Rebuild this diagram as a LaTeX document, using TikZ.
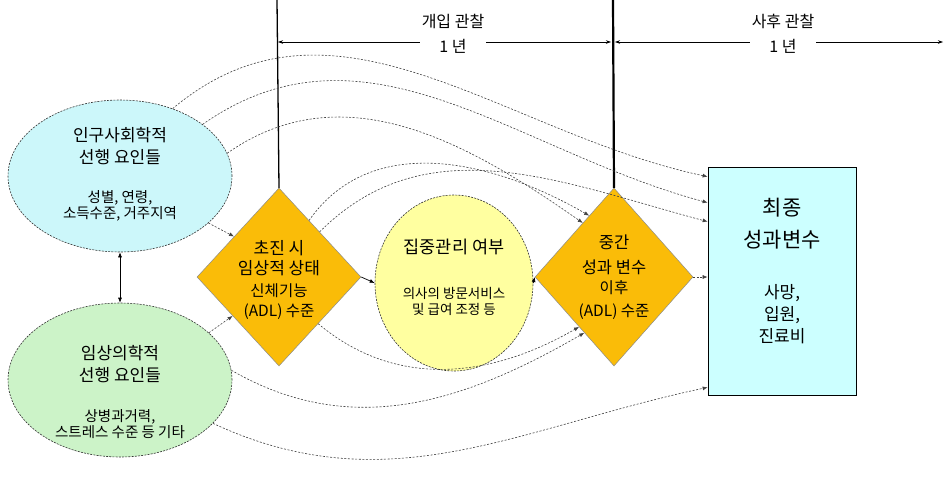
\documentclass[tikz,border=0pt]{standalone}
\usepackage{fontspec}
\newfontfamily\kr{Noto Sans CJK KR}
\usetikzlibrary{shapes.geometric,arrows.meta,calc}
\definecolor{cyanE}{RGB}{204,247,250}
\definecolor{greenE}{RGB}{204,243,200}
\definecolor{orangeD}{RGB}{250,188,8}
\definecolor{yellowE}{RGB}{255,255,160}
\definecolor{boxC}{RGB}{204,255,255}
\begin{document}
\begin{tikzpicture}[x=1pt,y=-1pt,
  conn/.style={dash pattern=on 2pt off 1.6pt, line width=0.6pt, black!75, -{Latex[length=5pt,width=4pt]}},
  solidarrow/.style={line width=0.7pt, black, -{Latex[length=5pt,width=4pt]}},
  dimline/.style={line width=0.6pt, black, {Stealth[length=5pt,width=3.5pt]}-{Stealth[length=5pt,width=3.5pt]}},
  ttl/.style={font=\kr\fontsize{17}{22}\selectfont, align=center, inner sep=0pt},
  sbt/.style={font=\kr\fontsize{14.5}{16}\selectfont, align=center, inner sep=0pt},
  dimlabel/.style={font=\kr\fontsize{16}{25}\selectfont, align=center, fill=white, inner sep=2pt},
  ell/.style={ellipse, draw=black!80, dash pattern=on 2pt off 1.2pt, line width=0.6pt, inner sep=0pt},
  dia/.style={diamond, draw=black!45, line width=0.5pt, fill=orangeD, inner sep=0pt}
]
\useasboundingbox (0,0) rectangle (945,483);

% nodes
\node[ell, fill=cyanE, minimum width=224pt, minimum height=152pt] (topE) at (120,176) {};
\node[ell, fill=greenE, minimum width=224pt, minimum height=154pt] (botE) at (120,380) {};
\node[dia, minimum width=164pt, minimum height=178pt] (ld) at (279,277) {};
\node[ell, fill=yellowE, minimum width=158pt, minimum height=176pt] (ye) at (454,283) {};
\node[dia, minimum width=158pt, minimum height=178pt] (rd) at (614,277) {};
\node[draw=black, line width=0.7pt, fill=boxC, minimum width=148pt, minimum height=228pt, inner sep=0pt] (box) at (782,281) {};

% texts
\node[ttl] (t1) at (120,146) {인구사회학적\\선행 요인들};
\node[sbt] (s1) at (120,206) {성별, 연령,\\소득수준, 거주지역};
\node[ttl] (t2) at (120,364) {임상의학적\\선행 요인들};
\node[sbt] (s2) at (120,424) {상병과거력,\\스트레스 수준 등 기타};
\node[ttl, font=\kr\fontsize{17}{20}\selectfont] (t3) at (279,258) {초진 시\\임상적 상태};
\node[sbt, font=\kr\fontsize{15.5}{20}\selectfont] (s3) at (279,302) {신체기능\\(ADL) 수준};
\node[ttl, font=\kr\fontsize{17.5}{22}\selectfont] (t4) at (454,247) {집중관리 여부};
\node[sbt, font=\kr\fontsize{13.5}{16}\selectfont] (s4) at (454,301) {의사의 방문서비스\\및 급여 조정 등};
\node[ttl, font=\kr\fontsize{16.5}{25}\selectfont] (t5) at (614,255) {중간\\성과 변수};
\node[sbt, font=\kr\fontsize{15.5}{23}\selectfont] (s5) at (614,300) {이후\\(ADL) 수준};
\node[ttl, font=\kr\fontsize{21}{32}\selectfont] (t6) at (782,224) {최종\\성과변수};
\node[sbt, font=\kr\fontsize{17}{22}\selectfont] (s6) at (782,314) {사망,\\입원,\\진료비};

% timeline
\coordinate (v1) at (277,0);
\coordinate (v2) at (613,0);
\coordinate (a1) at (277,42);
\coordinate (a2) at (613,42);
\coordinate (a3) at (943,42);
\draw[line width=1.3pt] (v1) -- (ld.north);
\draw[line width=2.2pt] (v2) -- (rd.north);
\draw[dimline] ([xshift=1pt]a1) -- ([xshift=-2pt]a2);
\draw[dimline] ([xshift=2pt]a2) -- (a3);
\node[dimlabel] (l1) at (453,34) {개입 관찰\\1 년};
\node[dimlabel] (l2) at (783,34) {사후 관찰\\1 년};

% main solid arrows
\draw[{Latex[length=5pt,width=4pt]}-{Latex[length=5pt,width=4pt]}, line width=0.6pt] (topE.south) -- (botE.north);
\draw[solidarrow] (ld.east) -- (ye.west);
\draw[solidarrow] (ye.east) -- (rd.west);
\draw[conn] (rd.east) -- (box.west |- rd.east);

% dashed connectors, upper
\draw[conn] (topE.-28) -- (ld.138);
\draw[conn] (topE.52) to[out=40,in=168] ([yshift=-10pt]box.north west);
\draw[conn] (topE.32) to[out=35,in=165] ([yshift=-36pt]box.north west);
\draw[conn] (topE.12) to[out=35,in=145] (rd.120);
\draw[conn] (ld.62) to[out=55,in=150] (rd.112);
\draw[conn] (ld.48) to[out=45,in=165] ([yshift=-55pt]box.north west);

% dashed connectors, lower
\draw[conn] (botE.28) -- (ld.-140);
\draw[conn] (botE.5) to[out=-30,in=-150] (rd.-118);
\draw[conn] (ld.-50) to[out=-40,in=-150] (rd.-125);
\draw[conn] (botE.-25) to[out=-25,in=-168] ([yshift=8pt]box.south west);
\end{tikzpicture}
\end{document}
